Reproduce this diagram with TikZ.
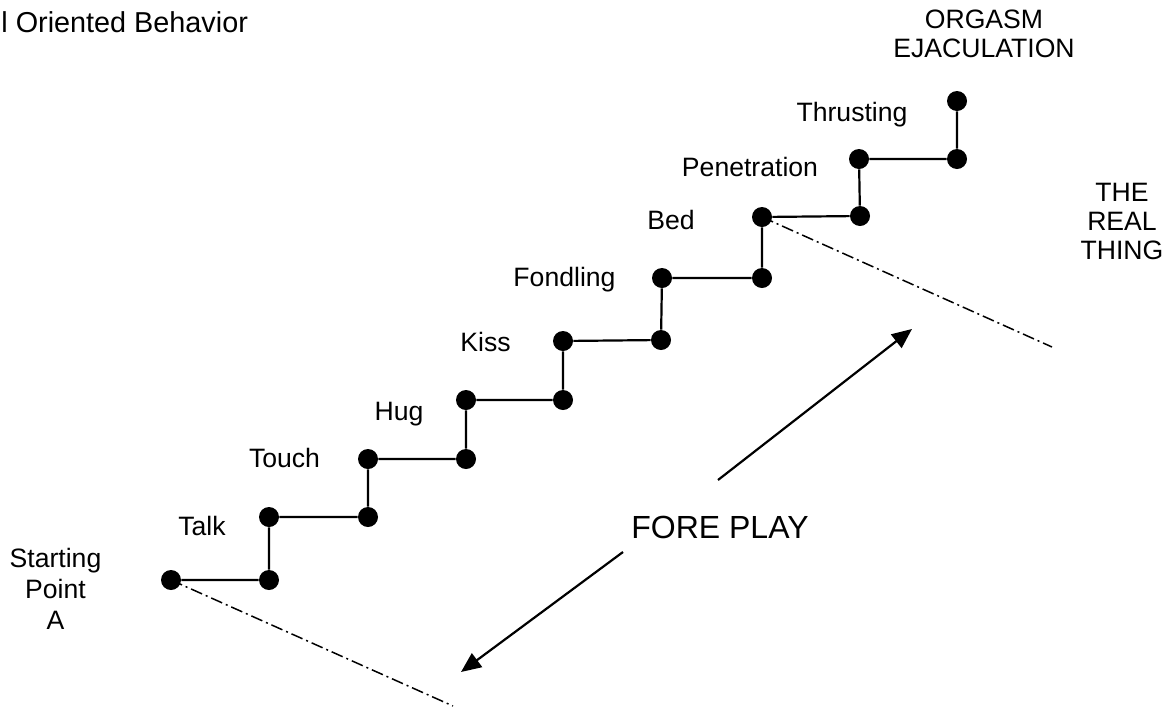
\documentclass[tikz,border=0pt]{standalone}
\usepackage{fontspec}
\setmainfont{Liberation Sans}
\usetikzlibrary{arrows.meta}
\tikzset{
  dot/.style={circle,fill=black,inner sep=0pt,minimum size=10pt},
  stair/.style={line width=1.1pt},
  dashdot/.style={line width=0.75pt,dash pattern=on 6pt off 2pt on 1pt off 2pt},
  arr/.style={line width=1.1pt,-{Triangle[length=10pt,width=8.5pt]}},
  lbl/.style={inner sep=0pt,anchor=base,font=\fontsize{13.3pt}{14.5pt}\selectfont},
  mlbl/.style={inner sep=0pt,anchor=north,align=center,font=\fontsize{13.3pt}{14.5pt}\selectfont},
}
\begin{document}
\begin{tikzpicture}[x=0.5pt,y=-0.5pt]
\useasboundingbox (0,0) rectangle (1168,713);
% dots
\node[dot] (d0) at (171,580) {};
\node[dot] (d1) at (269,580) {};
\node[dot] (d2) at (269,517) {};
\node[dot] (d3) at (368,517) {};
\node[dot] (d4) at (368,459) {};
\node[dot] (d5) at (466,459) {};
\node[dot] (d6) at (466,400) {};
\node[dot] (d7) at (563,400) {};
\node[dot] (d8) at (563,341) {};
\node[dot] (d9) at (661,340) {};
\node[dot] (d10) at (662,278) {};
\node[dot] (d11) at (762,278) {};
\node[dot] (d12) at (762,217) {};
\node[dot] (d13) at (860,216) {};
\node[dot] (d14) at (859,159) {};
\node[dot] (d15) at (957,159) {};
\node[dot] (d16) at (957,101) {};
% stairs
\draw[stair] (d0) -- (d1) -- (d2) -- (d3) -- (d4) -- (d5) -- (d6) -- (d7) -- (d8)
  -- (d9) -- (d10) -- (d11) -- (d12) -- (d13) -- (d14) -- (d15) -- (d16);
% dash-dot guide lines
\coordinate (e0) at (453,706);
\coordinate (e1) at (1052,347);
\draw[dashdot] (d0.center) -- (e0);
\draw[dashdot] (d12.center) -- (e1);
% labels
\node[lbl,anchor=base west,font=\fontsize{14.4pt}{16pt}\selectfont] (title) at (1,32) {l Oriented Behavior};
\node[mlbl] (orgasm) at (984,10) {ORGASM\\EJACULATION};
\node[lbl] (thrust) at (852,121.7) {Thrusting};
\node[lbl] (pen) at (750,176.7) {Penetration};
\node[lbl] (bed) at (671,229.3) {Bed};
\node[lbl] (fond) at (564.5,286) {Fondling};
\node[lbl] (kiss) at (485.5,351.7) {Kiss};
\node[lbl] (hug) at (399,420) {Hug};
\node[lbl] (touch) at (284.5,467.7) {Touch};
\node[lbl] (talk) at (202,535) {Talk};
\node[mlbl] (real) at (1122,182.5) {THE\\REAL\\THING};
\node[mlbl,font=\fontsize{13.3pt}{15.5pt}\selectfont] (start) at (55.5,547.5) {Starting\\Point\\A};
\node[lbl,font=\fontsize{16pt}{18pt}\selectfont] (fore) at (720,538.3) {FORE PLAY};
% arrows
\coordinate (a1s) at (718,480);
\coordinate (a1e) at (912,329);
\coordinate (a2s) at (623,552);
\coordinate (a2e) at (461,672);
\draw[arr] (a1s) -- (a1e);
\draw[arr] (a2s) -- (a2e);
\end{tikzpicture}
\end{document}
